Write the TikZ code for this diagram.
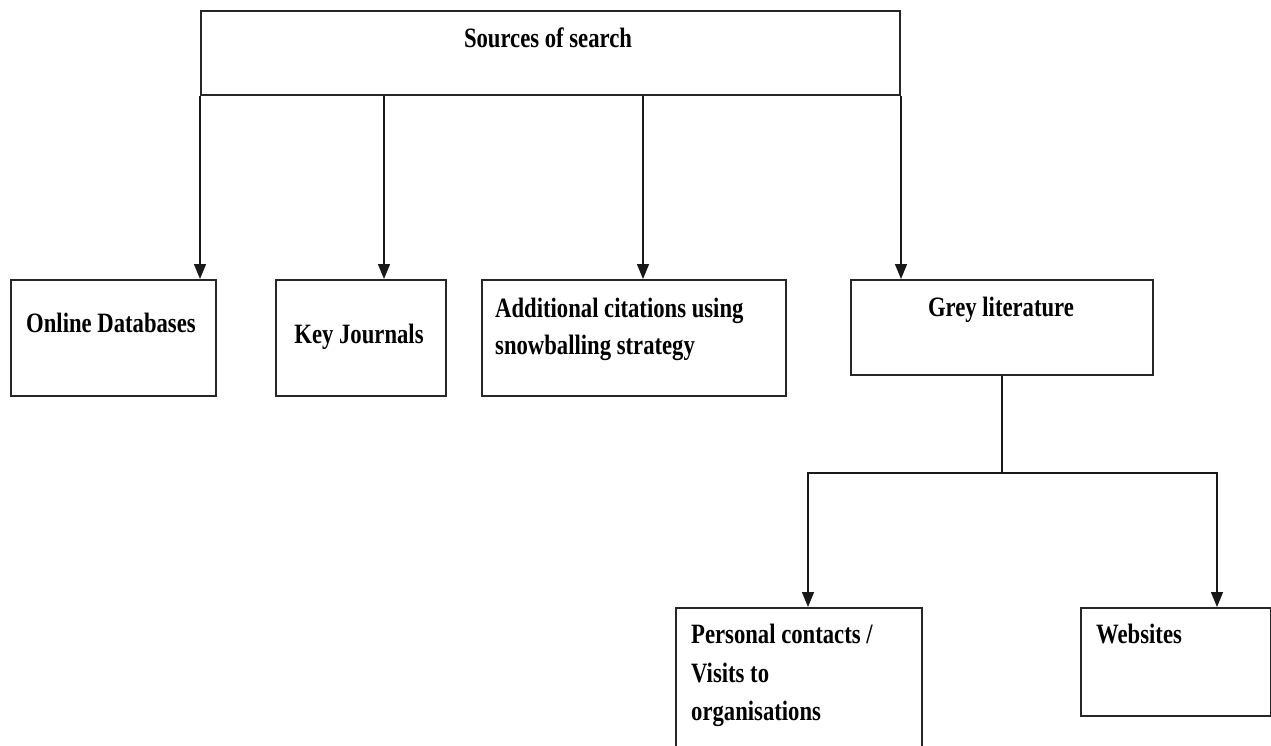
\documentclass[tikz,border=0pt]{standalone}
\usepackage{fontspec}
\setmainfont[FakeStretch=0.81]{Liberation Serif}
\usetikzlibrary{arrows.meta}
\begin{document}
\begin{tikzpicture}[x=1pt,y=-1pt,
  box/.style={draw=black!85, line width=2pt, rectangle, inner sep=0pt, anchor=north west},
  lbl/.style={inner sep=0pt, font=\fontsize{28}{37}\selectfont\bfseries, align=left},
  arw/.style={draw=black!90, line width=1.4pt, -{Triangle[length=15pt,width=12pt]}},
  link/.style={draw=black!90, line width=1.4pt}]
\useasboundingbox (0,0) rectangle (1271,745);
\clip (0,0) rectangle (1271,745);

% boxes
\node[box, minimum width=699pt, minimum height=84pt]  (src) at (200,10) {};
\node[box, minimum width=205pt, minimum height=116pt] (db)  at (10,279) {};
\node[box, minimum width=170pt, minimum height=116pt] (kj)  at (275,279) {};
\node[box, minimum width=304pt, minimum height=116pt] (ac)  at (481,279) {};
\node[box, minimum width=302pt, minimum height=95pt]  (gl)  at (850,279) {};
\node[box, minimum width=246pt, minimum height=160pt] (pc)  at (675,607) {};
\node[box, minimum width=190pt, minimum height=108pt] (ws)  at (1080,607) {};

% labels
\node[lbl, anchor=base]       (srct) at (548,47)  {Sources of search};
\node[lbl, anchor=base west]  (dbt)  at (26,332)  {Online Databases};
\node[lbl, anchor=base]       (kjt)  at (359,343) {Key Journals};
\node[lbl, anchor=north west] (act)  at (495,298) {Additional citations using\\snowballing strategy};
\node[lbl, anchor=base]       (glt)  at (1001,316) {Grey literature};
\node[lbl, anchor=north west, font=\fontsize{28}{38.5}\selectfont\bfseries] (pct) at (691,624) {Personal contacts /\\Visits to\\organisations};
\node[lbl, anchor=base west]  (wst)  at (1096,643) {Websites};

% connectors from the top box
\draw[arw] (src.south west) -- (src.south west |- db.north);
\draw[arw] ([xshift=184pt]src.south west) -- ([xshift=184pt]src.south west |- kj.north);
\draw[arw] ([xshift=443pt]src.south west) -- ([xshift=443pt]src.south west |- ac.north);
\draw[arw] (src.south east) -- (src.south east |- gl.north);

% grey literature split
\coordinate (fork) at (gl.south |- 0,473);
\draw[link] (gl.south) -- (fork);
\draw[arw] (fork) -| ([xshift=133pt]pc.north west);
\draw[arw] (fork) -| ([xshift=137pt]ws.north west);
\end{tikzpicture}
\end{document}
